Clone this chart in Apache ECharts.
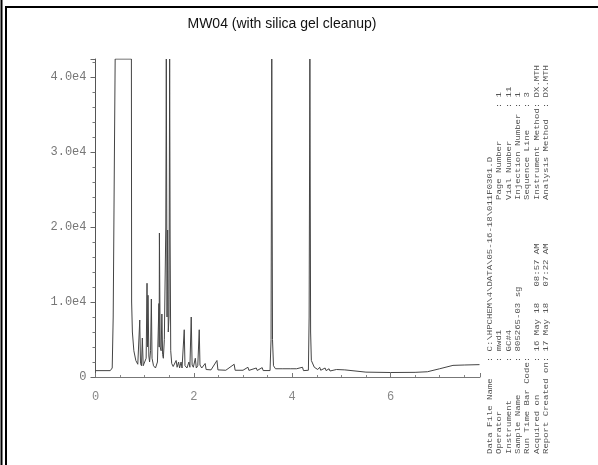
<!DOCTYPE html>
<html><head><meta charset="utf-8">
<script src="https://cdn.jsdelivr.net/npm/echarts@6/dist/echarts.min.js"></script>
<style>html,body{margin:0;padding:0;background:#fff}#c{width:598px;height:465px}</style>
</head><body><div id="c"></div>
<script>
// retention time (min)
const times = [0.00,0.30,0.34,0.36,0.385,0.40,0.73,0.735,0.75,0.78,0.82,0.86,0.88,0.90,0.915,0.935,0.953,0.97,1.00,1.03,1.048,1.058,1.068,1.085,1.10,1.12,1.136,1.15,1.18,1.22,1.26,1.29,1.295,1.30,1.315,1.335,1.35,1.365,1.38,1.40,1.43,1.44,1.455,1.467,1.48,1.495,1.508,1.518,1.53,1.55,1.58,1.62,1.64,1.66,1.69,1.71,1.74,1.76,1.79,1.805,1.82,1.86,1.90,1.92,1.947,1.965,1.99,2.03,2.05,2.08,2.11,2.125,2.16,2.23,2.25,2.35,2.47,2.49,2.65,2.82,2.84,3.00,3.10,3.12,3.27,3.29,3.39,3.41,3.55,3.57,3.585,3.60,3.62,3.66,3.70,3.81,3.83,3.96,3.98,4.09,4.11,4.21,4.23,4.33,4.345,4.36,4.375,4.39,4.45,4.52,4.56,4.58,4.67,4.69,4.75,4.77,4.90,4.92,5.07,5.09,5.50,6.00,6.50,6.75,7.00,7.27,7.50,7.81];
// detector response
const signal = [850,850,1200,8000,30000,42400,42400,10000,6000,3500,2200,1700,1600,7600,1800,1500,5200,1500,1700,2500,12500,4000,10900,2800,2000,3500,10400,2500,1500,1200,2000,9800,4000,19200,4000,3500,8400,3000,2500,5000,20000,42400,8000,19600,6000,8000,42400,18000,3500,1800,1400,1300,2200,1300,2000,1200,2000,1200,1400,6300,1500,1200,2000,1300,8000,1600,1300,2500,1200,1500,6300,1600,1200,1800,1000,950,2200,950,900,1700,900,900,1300,880,1200,870,1250,860,860,5000,42400,5000,1500,1100,900,1100,850,1100,850,1100,850,1300,850,900,8000,42400,6000,2200,1300,1000,1300,900,1200,850,1100,800,1000,750,950,700,650,600,620,700,1100,1550,1600,1650];

const chartTitle = 'MW04 (with silica gel cleanup)';
const leftLabels = ['Data File Name','Operator','Instrument','Sample Name','Run Time Bar Code','Acquired on','Report Created on'];
const leftValues = ['C:\\HPCHEM\\4\\DATA\\05-16-18\\011F0301.D','mwd1','GC#4','805265-03 sg','','16 May 18   08:57 AM','17 May 18   07:22 AM'];
const rightLabels = ['Page Number','Vial Number','Injection Number','Sequence Line','Instrument Method','Analysis Method'];
const rightValues = ['1','11','1','3','DX.MTH','DX.MTH'];

const chart = echarts.init(document.getElementById('c'), null, {renderer:'canvas'});
const data = times.map((t,i)=>[t, signal[i]]);
const mono = 'Liberation Mono';
const txtColor = '#555';
const pad = s => (s + '                 ').slice(0, 17);
const line = (l, v) => pad(l) + ':' + (v ? ' ' + v : '');

const graphics = [
  {type:'line', shape:{x1:1.5,y1:0,x2:1.5,y2:465}, style:{stroke:'#000',lineWidth:2}},
  {type:'line', shape:{x1:6,y1:6,x2:6,y2:465}, style:{stroke:'#000',lineWidth:2}},
  {type:'line', shape:{x1:5,y1:7,x2:598,y2:7}, style:{stroke:'#000',lineWidth:2}}
];
const adv = 5.4, sx = adv / 4.8;
leftLabels.forEach((l,i)=>{
  graphics.push({type:'text', x:490+i*9.3, y:454, rotation:Math.PI/2, scaleX:sx,
    style:{text:line(l, leftValues[i]), font:'8px "'+mono+'"', fill:txtColor, textAlign:'left', textVerticalAlign:'middle'}});
});
rightLabels.forEach((l,i)=>{
  graphics.push({type:'text', x:499.3+i*9.3, y:200, rotation:Math.PI/2, scaleX:sx,
    style:{text:line(l, rightValues[i]), font:'8px "'+mono+'"', fill:txtColor, textAlign:'left', textVerticalAlign:'middle'}});
});

chart.setOption({
  animation:false,
  backgroundColor:'#fff',
  title:{text:chartTitle, left:277, top:12, textAlign:'center',
    textStyle:{fontFamily:'Liberation Sans', fontSize:14, fontWeight:'normal', color:'#111'}},
  grid:{left:95.5, right:118, top:59, bottom:88},
  xAxis:{type:'value', min:0, max:7.82, interval:2, offset:10,
    axisLine:{lineStyle:{color:'#777',width:1}},
    axisTick:{inside:true, length:4, lineStyle:{color:'#777'}},
    minorTick:{show:true, splitNumber:4, length:2, lineStyle:{color:'#888'}},
    splitLine:{show:false},
    axisLabel:{margin:4, fontFamily:mono, fontSize:12, color:'#888', showMaxLabel:false}},
  yAxis:{type:'value', min:0, max:42400, interval:10000,
    axisLine:{show:true, lineStyle:{color:'#555',width:1}},
    axisTick:{show:true, length:5, lineStyle:{color:'#666'}},
    minorTick:{show:true, splitNumber:5, length:3, lineStyle:{color:'#777'}},
    splitLine:{show:false},
    axisLabel:{margin:9, fontFamily:mono, fontSize:12, color:'#777', showMaxLabel:false,
      formatter:v=> v===0 ? '0' : (v/10000).toFixed(1)+'e4'}},
  series:[{type:'line', data:data, showSymbol:false, symbol:'none',
    lineStyle:{color:'#444', width:1}, clip:true}],
  graphic:graphics
});
</script>
</body></html>
